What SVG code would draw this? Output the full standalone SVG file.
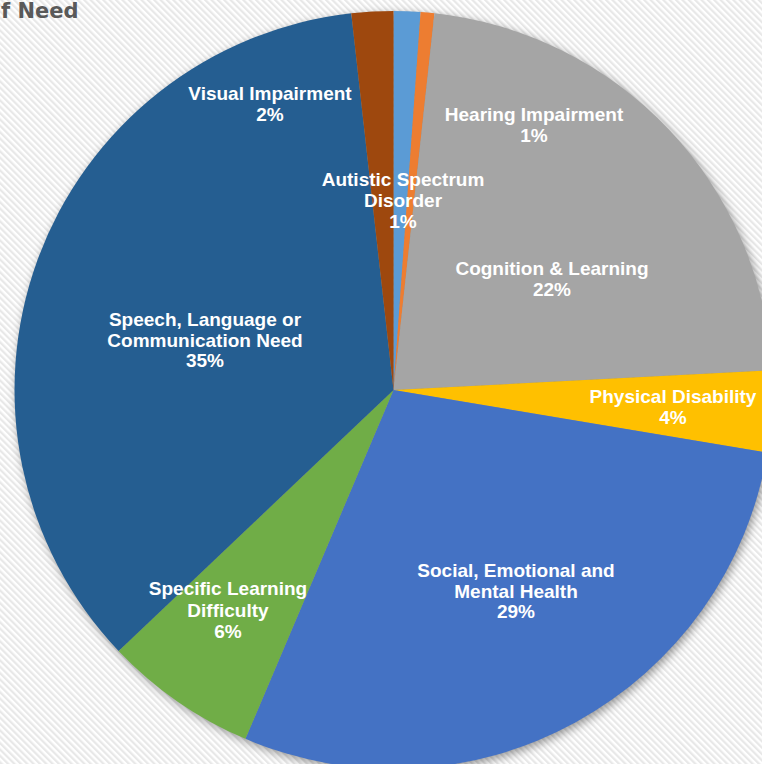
<svg xmlns="http://www.w3.org/2000/svg" width="762" height="764" viewBox="0 0 762 764">
  <defs>
    <pattern id="stripes" width="4.5" height="4.5" patternUnits="userSpaceOnUse" patternTransform="rotate(-45)">
      <rect width="4.5" height="4.5" fill="#ffffff"/>
      <rect width="2.2" height="4.5" fill="#e8e8e8"/>
    </pattern>
    <filter id="shadow" x="-10%" y="-10%" width="120%" height="120%">
      <feGaussianBlur stdDeviation="5"/>
    </filter>
  </defs>
  <style>
    .lbl { font-family: "Liberation Sans", Arial, sans-serif; font-size: 19px; font-weight: bold; fill: #ffffff; text-anchor: middle; }
    .title { font-family: "DejaVu Sans", sans-serif; font-size: 21px; font-weight: bold; fill: #595959; }
  </style>
  <rect x="0" y="0" width="762" height="764" fill="url(#stripes)"/>
  <text class="title" x="1" y="18">f Need</text>
  <circle cx="395.5" cy="393" r="379" fill="#000000" fill-opacity="0.4" filter="url(#shadow)"/>
  <g id="slice-asd">
    <path d="M393.5,390 L393.5,11 A379,379 0 0 1 420.6,11.97 Z" fill="#5B9BD5"/>
  </g>
  <g id="slice-hearing">
    <path d="M393.5,390 L420.6,11.97 A379,379 0 0 1 434.43,13.22 Z" fill="#ED7D31"/>
  </g>
  <g id="slice-cognition">
    <path d="M393.5,390 L434.43,13.22 A379,379 0 0 1 771.98,370.16 Z" fill="#A5A5A5"/>
  </g>
  <g id="slice-physical">
    <path d="M393.5,390 L771.98,370.16 A379,379 0 0 1 767.3,452.55 Z" fill="#FFC000"/>
  </g>
  <g id="slice-semh">
    <path d="M393.5,390 L767.3,452.55 A379,379 0 0 1 245.41,738.87 Z" fill="#4472C4"/>
  </g>
  <g id="slice-spld">
    <path d="M393.5,390 L245.41,738.87 A379,379 0 0 1 118.59,650.88 Z" fill="#70AD47"/>
  </g>
  <g id="slice-speech">
    <path d="M393.5,390 L118.59,650.88 A379,379 0 0 1 351.25,13.36 Z" fill="#255E91"/>
  </g>
  <g id="slice-visual">
    <path d="M393.5,390 L351.25,13.36 A379,379 0 0 1 393.5,11 Z" fill="#9E480E"/>
  </g>
  <g id="labels">
    <g id="label-visual">
      <text class="lbl" x="270" y="100">Visual Impairment</text>
      <text class="lbl" x="270" y="121">2%</text>
    </g>
    <g id="label-asd">
      <text class="lbl" x="403" y="186">Autistic Spectrum</text>
      <text class="lbl" x="403" y="207">Disorder</text>
      <text class="lbl" x="403" y="228">1%</text>
    </g>
    <g id="label-hearing">
      <text class="lbl" x="534" y="121">Hearing Impairment</text>
      <text class="lbl" x="534" y="142">1%</text>
    </g>
    <g id="label-cognition">
      <text class="lbl" x="552" y="275">Cognition &amp; Learning</text>
      <text class="lbl" x="552" y="296">22%</text>
    </g>
    <g id="label-physical">
      <text class="lbl" x="673" y="403">Physical Disability</text>
      <text class="lbl" x="673" y="424">4%</text>
    </g>
    <g id="label-speech">
      <text class="lbl" x="205" y="326">Speech, Language or</text>
      <text class="lbl" x="205" y="346.5">Communication Need</text>
      <text class="lbl" x="205" y="367">35%</text>
    </g>
    <g id="label-semh">
      <text class="lbl" x="516" y="577">Social, Emotional and</text>
      <text class="lbl" x="516" y="597.5">Mental Health</text>
      <text class="lbl" x="516" y="618">29%</text>
    </g>
    <g id="label-spld">
      <text class="lbl" x="228" y="595">Specific Learning</text>
      <text class="lbl" x="228" y="616.5">Difficulty</text>
      <text class="lbl" x="228" y="638">6%</text>
    </g>
  </g>
</svg>
